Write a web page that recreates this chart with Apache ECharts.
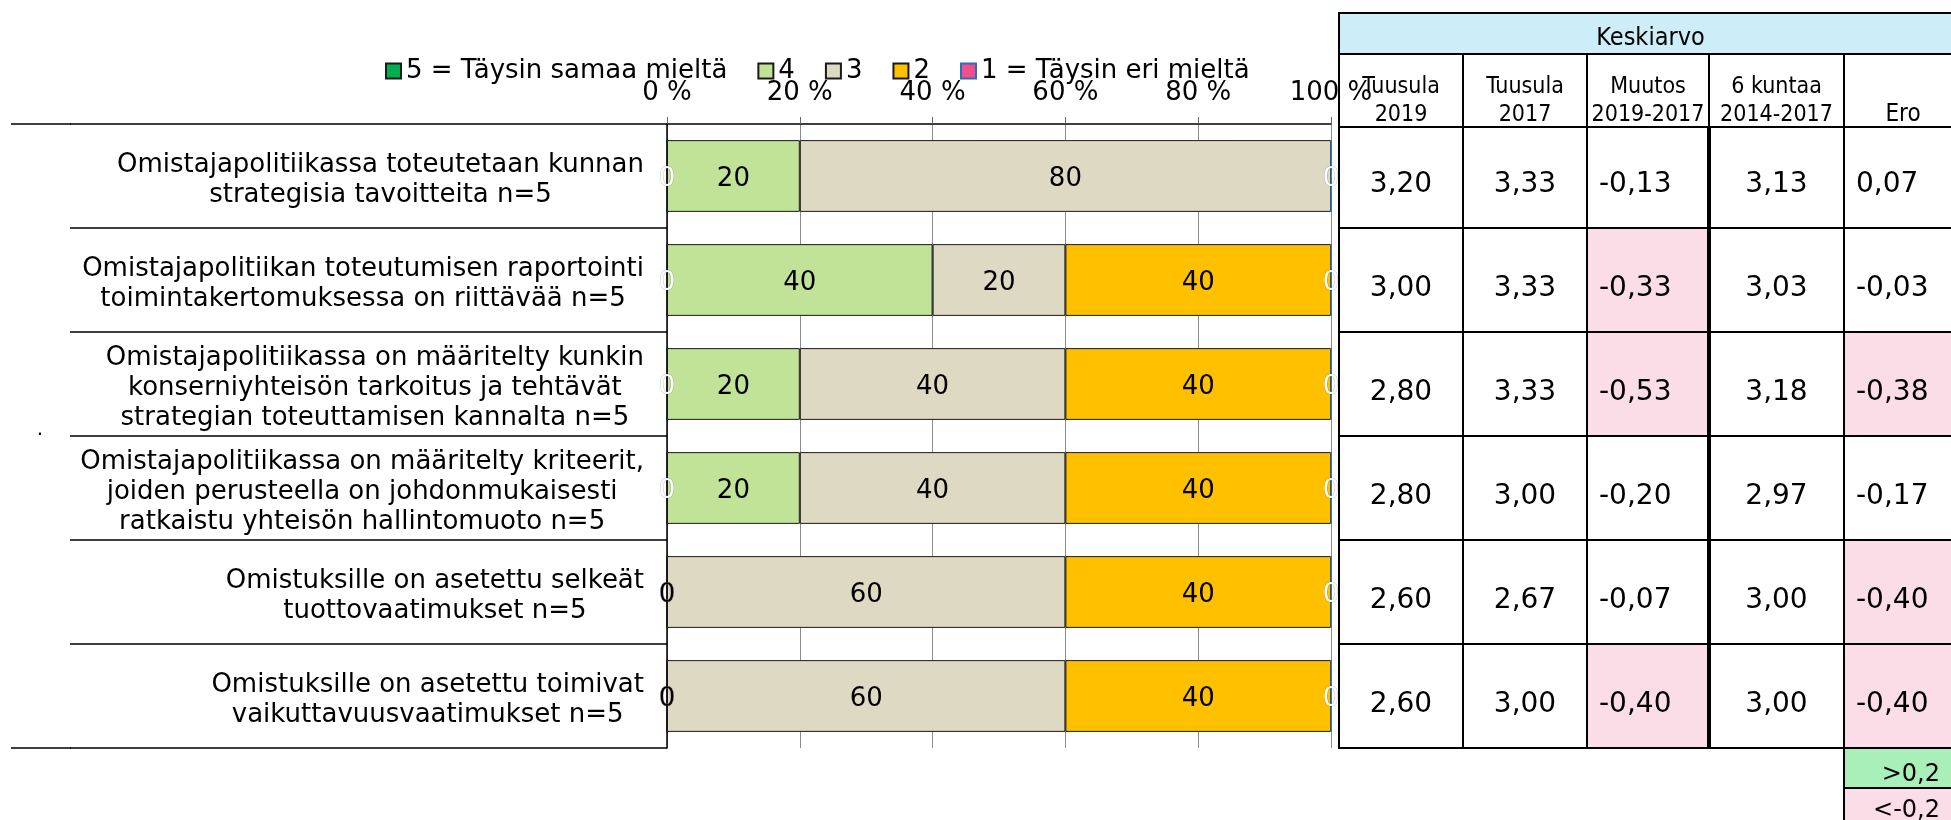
<!DOCTYPE html>
<html>
<head>
<meta charset="utf-8">
<script src="https://cdn.jsdelivr.net/npm/echarts@6.0.0/dist/echarts.min.js"></script>
<style>
  html, body { margin: 0; padding: 0; background: #fff; }
  #main { width: 1951px; height: 820px; }
</style>
</head>
<body>
<div id="main"></div>
<script>
// kysymykset (kategoriat)
var categories = [
  'Omistajapolitiikassa toteutetaan kunnan\nstrategisia tavoitteita n=5',
  'Omistajapolitiikan toteutumisen raportointi\ntoimintakertomuksessa on riittävää n=5',
  'Omistajapolitiikassa on määritelty kunkin\nkonserniyhteisön tarkoitus ja tehtävät\nstrategian toteuttamisen kannalta n=5',
  'Omistajapolitiikassa on määritelty kriteerit,\njoiden perusteella on johdonmukaisesti\nratkaistu yhteisön hallintomuoto n=5',
  'Omistuksille on asetettu selkeät\ntuottovaatimukset n=5',
  'Omistuksille on asetettu toimivat\nvaikuttavuusvaatimukset n=5'
];
var seriesNames = ['5 = Täysin samaa mieltä', '4', '3', '2', '1 = Täysin eri mieltä'];
// vastausjakaumat %
var s5 = [0, 0, 0, 0, 0, 0];
var s4 = [20, 40, 20, 20, 0, 0];
var s3 = [80, 20, 40, 40, 60, 60];
var s2 = [null, 40, 40, 40, 40, 40];
var s1 = [0, 0, 0, 0, 0, 0];
var xTicks = [0, 20, 40, 60, 80, 100];

// keskiarvotaulukko
var tableTitle = 'Keskiarvo';
var colHeaders = ['Tuusula\n2019', 'Tuusula\n2017', 'Muutos\n2019-2017', '6 kuntaa\n2014-2017', 'Ero'];
var tuusula2019 = [3.20, 3.00, 2.80, 2.80, 2.60, 2.60];
var tuusula2017 = [3.33, 3.33, 3.33, 3.00, 2.67, 3.00];
var muutos = [-0.13, -0.33, -0.53, -0.20, -0.07, -0.40];
var kunnat6 = [3.13, 3.03, 3.18, 2.97, 3.00, 3.00];
var ero = [0.07, -0.03, -0.38, -0.17, -0.40, -0.40];
var limitLabels = ['>0,2', '<-0,2'];

var FONT = '"DejaVu Sans", Verdana, sans-serif';
var NARROW = '"Liberation Sans Narrow", "DejaVu Sans Condensed", "Roboto", sans-serif';
var colors = ['#00b050', '#c0e397', '#ddd9c3', '#ffc000', '#ef4f8d'];
var PINK = '#fbdde8', GREEN = '#a9efb9', BLUE = '#cdedf9';

var myChart = echarts.init(document.getElementById('main'));

function barSeries(i, data, labelColor) {
  return {
    name: seriesNames[i],
    type: 'bar',
    stack: 'all',
    barCategoryGap: '31%',
    data: data,
    itemStyle: { color: colors[i], borderColor: i === 4 ? '#2e6db5' : '#1a1a1a', borderWidth: 1 },
    label: {
      show: true, position: 'inside', color: labelColor, offset: [0, 3],
      fontSize: 26, fontFamily: FONT,
      textBorderColor: labelColor === '#fff' ? 'rgba(0,0,0,0.25)' : 'transparent',
      textBorderWidth: labelColor === '#fff' ? 1 : 0
    },
    emphasis: { disabled: true }
  };
}

var option = {
  animation: false,
  legend: {
    left: 385, top: 58, padding: 0,
    itemWidth: 15, itemHeight: 15, itemGap: 30,
    icon: 'rect',
    textStyle: { fontSize: 26, fontFamily: FONT, color: '#000' },
    data: seriesNames
  },
  grid: { left: 667, right: 620, top: 124, bottom: 72, outerBoundsMode: 'none' },
  xAxis: {
    type: 'value', position: 'top', min: 0, max: 100, interval: 20,
    axisLine: { show: true, lineStyle: { color: '#000', width: 1.5 } },
    axisTick: { show: true, length: 7, lineStyle: { color: '#666' } },
    splitLine: { show: true, lineStyle: { color: '#8c8c8c', width: 1 } },
    axisLabel: {
      margin: 18, fontSize: 26, fontFamily: FONT, color: '#000',
      formatter: function (v) { return xTicks.indexOf(v) >= 0 ? v + ' %' : ''; }
    }
  },
  yAxis: {
    type: 'category', inverse: true, data: categories,
    axisLine: { show: true, lineStyle: { color: '#000', width: 1.5 } },
    axisTick: { show: true, length: 597, lineStyle: { color: '#000', width: 1.5 } },
    axisLabel: {
      align: 'right', margin: 23, color: '#000', fontSize: 26, fontFamily: FONT,
      padding: [8, 0, 0, 0],
      formatter: function (v) {
        return v.split('\n').map(function (l) { return '{c|' + l + '}'; }).join('\n');
      },
      rich: { c: { align: 'center', fontSize: 26, lineHeight: 30, fontFamily: FONT, color: '#000' } }
    }
  },
  series: [
    barSeries(0, s5, '#fff'),
    barSeries(1, s4, '#000'),
    barSeries(2, s3, '#000'),
    barSeries(3, s2, '#000'),
    barSeries(4, s1, '#fff')
  ]
};
myChart.setOption(option);

// rivirajat kategoria-akselilta
var centers = categories.map(function (c, i) { return myChart.convertToPixel({ yAxisIndex: 0 }, i); });
var band = centers[1] - centers[0];
var edges = centers.map(function (c) { return c - band / 2; });
edges.push(centers[centers.length - 1] + band / 2);

function fmt(v) { return v.toFixed(2).replace('.', ','); }
function shade(v) { return v < -0.2 ? PINK : (v > 0.2 ? GREEN : '#fff'); }

var colX = [1339, 1463, 1587, 1709, 1844, 1962];
var headTop = 13, headMid = 54, headBottom = 127;
var els = [];

function cell(x0, y0, x1, y1, fill) {
  els.push({ type: 'rect', z: -5, shape: { x: x0, y: y0, width: x1 - x0, height: y1 - y0 },
    style: { fill: fill, stroke: '#000', lineWidth: 2 } });
}
function txt(s, x, y, align, font, lh) {
  els.push({ type: 'text', z: -4, x: x, y: y,
    style: { text: s, align: align, verticalAlign: 'middle', font: font, fill: '#000', lineHeight: lh || 30 } });
}

cell(colX[0], headTop, colX[5], headMid, BLUE);
txt(tableTitle, (colX[0] + colX[5]) / 2, 38, 'center', '25px ' + NARROW);
colHeaders.forEach(function (h, c) {
  cell(colX[c], headMid, colX[c + 1], headBottom, '#fff');
  var cx = (colX[c] + colX[c + 1]) / 2;
  if (h.indexOf('\n') >= 0) txt(h, cx, 101, 'center', '23px ' + NARROW, 28);
  else txt(h, cx, 115, 'center', '24px ' + NARROW);
});

var cols = [tuusula2019, tuusula2017, muutos, kunnat6, ero];
for (var r = 0; r < categories.length; r++) {
  var y0 = r === 0 ? headBottom : edges[r], y1 = edges[r + 1], cy = (edges[r] + y1) / 2 + 9;
  cols.forEach(function (arr, c) {
    var diff = (c === 2 || c === 4);
    cell(colX[c], y0, colX[c + 1], y1, diff ? shade(arr[r]) : '#fff');
    if (diff) txt(fmt(arr[r]), colX[c] + 12, cy, 'left', '28px ' + FONT);
    else txt(fmt(arr[r]), (colX[c] + colX[c + 1]) / 2, cy, 'center', '28px ' + FONT);
  });
}
// paksu pystyviiva
els.push({ type: 'line', z: -3, shape: { x1: colX[3], y1: headBottom, x2: colX[3], y2: edges[edges.length - 1] },
  style: { stroke: '#000', lineWidth: 4 } });

// raja-arvojen selite
var ly = edges[edges.length - 1];
cell(colX[4], ly, colX[5], ly + 40, GREEN);
cell(colX[4], ly + 40, colX[5], ly + 82, PINK);
txt(limitLabels[0], 1940, ly + 27, 'right', '24px ' + FONT);
txt(limitLabels[1], 1940, ly + 63, 'right', '24px ' + FONT);

// vasemman reunan jatkoviivat
[edges[0], edges[edges.length - 1]].forEach(function (y) {
  els.push({ type: 'line', shape: { x1: 11, y1: y, x2: 71, y2: y }, style: { stroke: '#000', lineWidth: 1.5 } });
});
els.push({ type: 'text', x: 40, y: 430, style: { text: '.', font: '20px ' + FONT, fill: '#000', align: 'center', verticalAlign: 'middle' } });

myChart.setOption({ graphic: { elements: els } });
</script>
</body>
</html>
